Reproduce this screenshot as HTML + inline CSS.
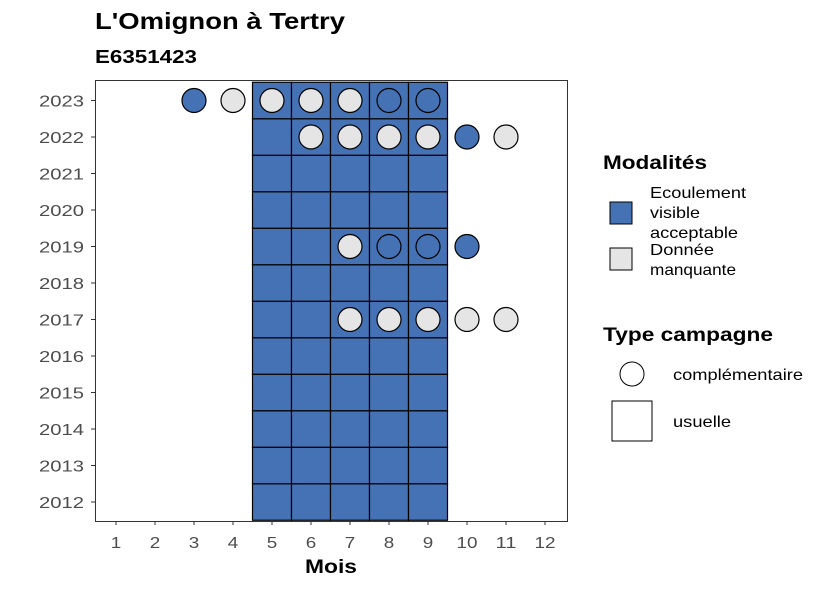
<!DOCTYPE html>
<html><head><meta charset="utf-8"><style>
body{margin:0;background:#fff;}
svg text{font-family:"Liberation Sans",Arial,sans-serif;}
</style></head><body>
<svg id="chart" width="826" height="590" xmlns="http://www.w3.org/2000/svg">
<rect width="826" height="590" fill="#fff"/>
<text x="95" y="29" font-size="23" font-weight="bold" textLength="250" lengthAdjust="spacingAndGlyphs">L'Omignon à Tertry</text>
<text x="95" y="63" font-size="18" font-weight="bold" textLength="102" lengthAdjust="spacingAndGlyphs">E6351423</text>
<g id="tiles"></g>
<g id="points"></g>
<rect x="95.5" y="80.5" width="472" height="441" fill="none" stroke="#333" stroke-width="1"/>
<g id="axes"></g>
<text x="331" y="573" font-size="19" font-weight="bold" text-anchor="middle" textLength="52" lengthAdjust="spacingAndGlyphs">Mois</text>
<g>
<text x="603" y="169" font-size="19" font-weight="bold" textLength="104" lengthAdjust="spacingAndGlyphs">Modalités</text>
<rect x="610" y="202" width="22" height="22" fill="#4472B4" stroke="#000"/>
<text font-size="16"><tspan x="650" y="198" textLength="96" lengthAdjust="spacingAndGlyphs">Ecoulement</tspan><tspan x="650" y="218" textLength="50" lengthAdjust="spacingAndGlyphs">visible</tspan><tspan x="650" y="238" textLength="88" lengthAdjust="spacingAndGlyphs">acceptable</tspan></text>
<rect x="610" y="248" width="22" height="22" fill="#E5E5E5" stroke="#000"/>
<text font-size="16"><tspan x="650" y="255" textLength="64" lengthAdjust="spacingAndGlyphs">Donnée</tspan><tspan x="650" y="275" textLength="86" lengthAdjust="spacingAndGlyphs">manquante</tspan></text>
</g>
<g>
<text x="603" y="341" font-size="19" font-weight="bold" textLength="170" lengthAdjust="spacingAndGlyphs">Type campagne</text>
<circle cx="632" cy="374" r="12" fill="#fff" stroke="#000"/>
<text x="673" y="380" font-size="16" textLength="130" lengthAdjust="spacingAndGlyphs">complémentaire</text>
<rect x="612" y="401" width="40" height="40" fill="#fff" stroke="#000"/>
<text x="673" y="427" font-size="16" textLength="58" lengthAdjust="spacingAndGlyphs">usuelle</text>
</g>
</svg>
<script>
const months=[1,2,3,4,5,6,7,8,9,10,11,12];
const years=[2012,2013,2014,2015,2016,2017,2018,2019,2020,2021,2022,2023];
const tileMonths=[5,6,7,8,9];
const tileYears=[2012,2013,2014,2015,2016,2017,2018,2019,2020,2021,2022,2023];
const pointYears=[2023,2023,2023,2023,2023,2023,2023,2022,2022,2022,2022,2022,2022,2019,2019,2019,2019,2017,2017,2017,2017,2017];
const pointMonths=[3,4,5,6,7,8,9,6,7,8,9,10,11,7,8,9,10,7,8,9,10,11];
const pointStatus=["e","m","m","m","m","e","e","m","m","m","m","e","m","m","e","e","e","m","m","m","m","m"];
const NS="http://www.w3.org/2000/svg";
const xS=m=>116+(m-1)*39;
const yS=y=>502-(y-2012)*36.5;
const col={e:"#4472B4",m:"#E5E5E5"};
function mk(t,a,p){const e=document.createElementNS(NS,t);for(const k in a)e.setAttribute(k,a[k]);p.appendChild(e);return e;}
const tg=document.getElementById('tiles');
tileYears.forEach(y=>tileMonths.forEach(m=>{
 const r=mk('rect',{x:xS(m)-19.5,y:yS(y)-18.25,width:39,height:36.5,fill:col.e,stroke:"#000","stroke-width":1.2},tg);
 
 
}));
const pg=document.getElementById('points');
pointYears.forEach((y,i)=>{
 const c=mk('circle',{cx:xS(pointMonths[i]),cy:yS(y),r:12,fill:col[pointStatus[i]],stroke:"#000","stroke-width":1.2},pg);
 
 
});
const ag=document.getElementById('axes');
months.forEach(m=>{
 mk('line',{x1:xS(m),x2:xS(m),y1:521,y2:525,stroke:"#333"},ag);
 const s=String(m);
 const t=mk('text',{x:xS(m),y:548,"font-size":16,"text-anchor":"middle",fill:"#4d4d4d",textLength:s.length*10.5,lengthAdjust:"spacingAndGlyphs"},ag);
 t.textContent=s;
 
 
});
years.forEach(y=>{
 mk('line',{x1:91,x2:95,y1:yS(y),y2:yS(y),stroke:"#333"},ag);
 const t=mk('text',{x:84,y:yS(y)+6,"font-size":16,"text-anchor":"end",fill:"#4d4d4d",textLength:45,lengthAdjust:"spacingAndGlyphs"},ag);
 t.textContent=y;
 
 
});
</script>
</body></html>
